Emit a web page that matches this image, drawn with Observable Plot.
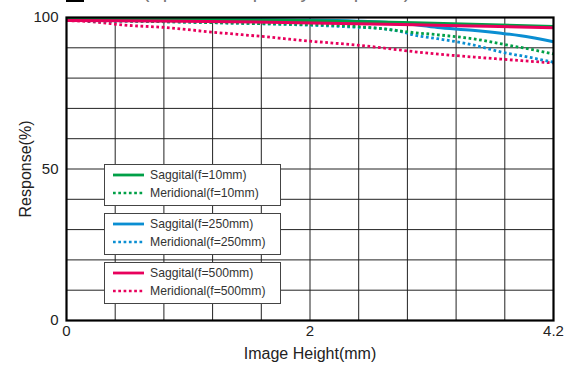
<!DOCTYPE html>
<html>
<head>
<meta charset="utf-8">
<script src="https://cdn.jsdelivr.net/npm/d3@7"></script>
<script src="https://cdn.jsdelivr.net/npm/@observablehq/plot@0.6"></script>
<style>
  html, body { margin: 0; padding: 0; background: #fff; }
  #wrap { position: relative; width: 575px; height: 365px; overflow: hidden; font-family: "Liberation Sans", Arial, sans-serif; }
  #header { position: absolute; left: 66px; top: -20px; height: 24px; font-size: 20px; color: #777; white-space: nowrap; }
  #header .sq { display: inline-block; width: 18px; height: 18px; background: #000; vertical-align: baseline; margin-right: 12px; position: relative; top: 4px; }
  .lbox { position: absolute; left: 104px; width: 175px; height: 40px; border: 1px solid #444; background: #fff; }
  .lrow { position: absolute; left: 0; height: 16px; font-size: 12.2px; color: #333; white-space: nowrap; }
  .lrow svg { position: absolute; left: 8px; top: 4px; }
  .lrow span { position: absolute; left: 45px; top: 0; line-height: 16px; }
</style>
</head>
<body>
<div id="wrap">
  <div id="header"><span class="sq"></span>MTF (Spatial Frequency: 50 lp/mm)</div>
  <div id="chart"></div>
  <div id="legend"></div>
</div>
<script>
// ---- data ----
const sag10X = [0, 1, 2, 2.5, 3, 3.5, 4.2];
const sag10Y = [99.5, 99.4, 99.0, 98.7, 98.3, 97.8, 97.0];
const mer10X = [0, 0.5, 1, 1.5, 2, 2.3, 2.7, 3.0, 3.2, 3.5, 3.75, 4.0, 4.2];
const mer10Y = [99.0, 98.8, 98.5, 98.1, 97.7, 97.4, 96.4, 95.0, 94.3, 93.0, 91.3, 89.5, 88.0];
const sag250X = [0, 1, 2, 2.5, 2.9, 3.2, 3.5, 3.75, 4.0, 4.2];
const sag250Y = [99.6, 99.5, 99.2, 98.8, 98.0, 96.7, 95.8, 94.8, 93.5, 92.0];
const mer250X = [0, 0.5, 1, 1.5, 2, 2.5, 2.7, 2.9, 3.0, 3.2, 3.5, 3.75, 4.0, 4.2];
const mer250Y = [99.0, 98.8, 98.5, 98.1, 97.6, 96.8, 96.4, 95.2, 94.2, 93.0, 91.0, 88.6, 86.8, 85.2];
const sag500X = [0, 1, 2, 3, 3.5, 4.2];
const sag500Y = [99.0, 98.8, 98.3, 97.6, 97.2, 96.6];
const mer500X = [0, 0.25, 0.5, 0.85, 1.25, 1.67, 2.1, 2.53, 3.1, 3.7, 4.2];
const mer500Y = [99.0, 98.5, 97.5, 96.7, 95.2, 93.8, 92.2, 90.8, 88.3, 86.4, 85.0];

const seriesNames = ["Saggital(f=10mm)", "Meridional(f=10mm)", "Saggital(f=250mm)", "Meridional(f=250mm)", "Saggital(f=500mm)", "Meridional(f=500mm)"];
const seriesColors = ["#00a047", "#00a047", "#0a8ed2", "#0a8ed2", "#e8005c", "#e8005c"];
const seriesDotted = [false, true, false, true, false, true];

const xTickValues = [0, 2.1, 4.2];
const xTickLabels = ["0", "2", "4.2"];
const yTickValues = [0, 50, 100];
const xGrid = [0.42, 0.84, 1.26, 1.68, 2.1, 2.52, 2.94, 3.36, 3.78];
const yGrid = [10, 20, 30, 40, 50, 60, 70, 80, 90];

// ---- build rows ----
const xs = [sag10X, mer10X, sag250X, mer250X, sag500X, mer500X];
const ys = [sag10Y, mer10Y, sag250Y, mer250Y, sag500Y, mer500Y];
const rows = s => xs[s].map((x, i) => ({x, y: ys[s][i], s: seriesNames[s]}));

function lineMark(s) {
  const dotted = seriesDotted[s];
  return Plot.line(rows(s), {
    x: "x", y: "y", curve: "monotone-x",
    stroke: seriesColors[s],
    strokeWidth: dotted ? 2.8 : 3,
    strokeDasharray: dotted ? "2.7,2.6" : null,
    strokeLinecap: "butt"
  });
}

const chart = Plot.plot({
  width: 575,
  height: 365,
  marginTop: 17,
  marginBottom: 45,
  marginLeft: 66,
  marginRight: 22,
  x: {domain: [0, 4.2]},
  y: {domain: [0, 100]},
  style: {fontFamily: "'Liberation Sans', Arial, sans-serif", fontSize: "15px", color: "#222", background: "#fff"},
  marks: [
    Plot.ruleX(xGrid, {stroke: "#222", strokeWidth: 1}),
    Plot.ruleY(yGrid, {stroke: "#222", strokeWidth: 1}),
    lineMark(5), lineMark(3), lineMark(1),
    lineMark(2), lineMark(0), lineMark(4),
    Plot.frame({stroke: "#000", strokeWidth: 2.2}),
    Plot.axisX(xTickValues, {
      tickSize: 0, tickPadding: 5, fontSize: 15,
      tickFormat: d => xTickLabels[xTickValues.indexOf(d)],
      label: null
    }),
    Plot.axisX({
      ticks: [], label: "Image Height(mm)", labelAnchor: "center", labelOffset: 38, labelArrow: false, fontSize: 16
    }),
    Plot.axisY(yTickValues, {
      tickSize: 0, tickPadding: 8, fontSize: 15,
      label: null
    }),
    Plot.axisY({
      ticks: [], label: "Response(%)", labelAnchor: "center", labelOffset: 47, labelArrow: false, fontSize: 16
    })
  ]
});
document.getElementById("chart").appendChild(chart);

// ---- legend (three boxes of two entries) ----
const legendTops = [164, 213, 262];
const legend = document.getElementById("legend");
legendTops.forEach((top, b) => {
  const box = document.createElement("div");
  box.className = "lbox";
  box.style.top = top + "px";
  [0, 1].forEach(k => {
    const s = b * 2 + k;
    const row = document.createElement("div");
    row.className = "lrow";
    row.style.top = (k === 0 ? 2 : 20) + "px";
    const dash = seriesDotted[s] ? 'stroke-dasharray="2.7,2.6"' : "";
    row.innerHTML = `<svg width="32" height="8"><line x1="0" y1="4" x2="31" y2="4" stroke="${seriesColors[s]}" stroke-width="${seriesDotted[s] ? 2.6 : 2.8}" ${dash}/></svg><span>${seriesNames[s]}</span>`;
    box.appendChild(row);
  });
  legend.appendChild(box);
});
</script>
</body>
</html>
